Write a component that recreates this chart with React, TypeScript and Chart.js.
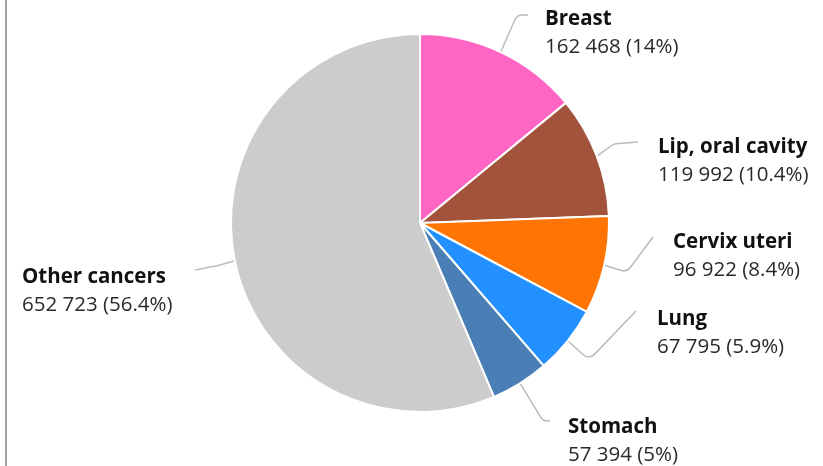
import React, { useEffect, useRef } from "react";
import { Chart, registerables } from "chart.js";

Chart.register(...registerables);

const categories = ["Breast", "Lip, oral cavity", "Cervix uteri", "Lung", "Stomach", "Other cancers"];
const cases = [162468, 119992, 96922, 67795, 57394, 652723];
const colors = ["#FF66C4", "#A3523B", "#FF7402", "#2290FF", "#4A7FB6", "#CCCCCC"];

// label layout (canvas px): text x, name baseline, leader elbow, leader end
const labelX = [545, 658, 673, 657, 568, 22];
const labelY = [25, 153, 248, 325, 433, 283];
const leaderElbow: [number, number][] = [[517, 15], [614, 144], [627, 272], [589, 360], [543, 421], [216, 266]];
const leaderEnd: [number, number][] = [[528, 15], [638, 142], [653, 237], [636, 311], [550, 421], [195, 270]];

function fmt(n: number) {
  return String(n).replace(/\B(?=(\d{3})+(?!\d))/g, " ");
}

export default function App() {
  const ref = useRef<HTMLCanvasElement>(null);
  useEffect(() => {
    if (!ref.current) return;
    const total = cases.reduce((a, b) => a + b, 0);
    const labelPlugin = {
      id: "outLabels",
      afterDraw(chart: any) {
        const ctx = chart.ctx;
        const meta = chart.getDatasetMeta(0);
        ctx.save();
        meta.data.forEach((arc: any, i: number) => {
          const p = arc.getProps(["x", "y", "startAngle", "endAngle", "outerRadius"], true);
          const mid = (p.startAngle + p.endAngle) / 2;
          const sx = p.x + Math.cos(mid) * (p.outerRadius + 1);
          const sy = p.y + Math.sin(mid) * (p.outerRadius + 1);
          ctx.beginPath();
          ctx.strokeStyle = "#BBBBBB";
          ctx.lineWidth = 1.5;
          ctx.moveTo(sx, sy);
          const [ex1, ey1] = leaderElbow[i];
          const [ex2, ey2] = leaderEnd[i];
          ctx.arcTo(ex1, ey1, ex2, ey2, 8);
          ctx.lineTo(ex2, ey2);
          ctx.stroke();
          const pct = ((cases[i] / total) * 100).toFixed(1).replace(/\.0$/, "");
          ctx.textBaseline = "alphabetic";
          ctx.textAlign = "left";
          ctx.fillStyle = "#111111";
          ctx.font = "bold 20.5px 'Open Sans'";
          ctx.fillText(categories[i], labelX[i], labelY[i]);
          ctx.fillStyle = "#2a2a2a";
          ctx.font = "20.5px 'Open Sans'";
          ctx.fillText(`${fmt(cases[i])} (${pct}%)`, labelX[i], labelY[i] + 28);
        });
        ctx.restore();
      },
    };
    const chart = new Chart(ref.current, {
      type: "pie",
      data: {
        labels: categories,
        datasets: [
          {
            data: cases,
            backgroundColor: colors,
            borderColor: "#FFFFFF",
            borderWidth: 2,
          },
        ],
      },
      options: {
        animation: false,
        responsive: false,
        radius: 189,
        layout: { padding: { left: 17, right: 0, top: 0, bottom: 20 } },
        plugins: { legend: { display: false }, tooltip: { enabled: false } },
      } as any,
      plugins: [labelPlugin],
    });
    return () => chart.destroy();
  }, []);
  return (
    <div style={{ position: "fixed", left: 0, top: 0, width: 823, height: 466, background: "#fff" }}>
      <div style={{ position: "absolute", left: 5, top: 0, width: 2, height: 466, background: "#A0A0A0" }} />
      <canvas ref={ref} width={823} height={466} style={{ position: "absolute", left: 0, top: 0 }} />
    </div>
  );
}
